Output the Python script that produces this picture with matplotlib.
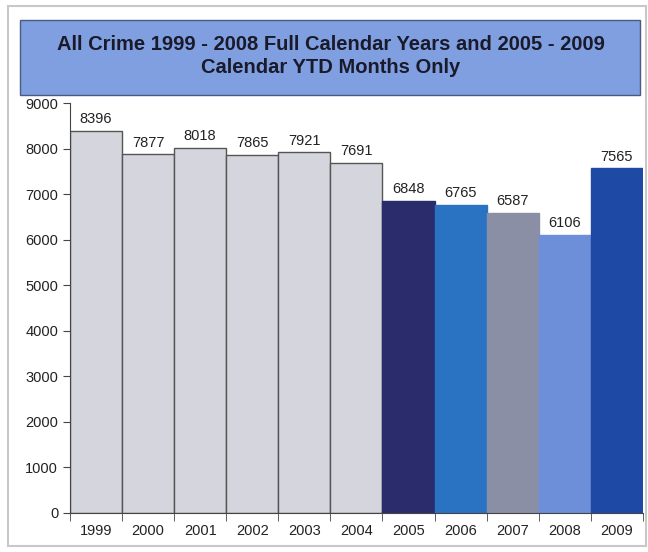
import matplotlib
matplotlib.use("Agg")
import matplotlib.pyplot as plt
from matplotlib.patches import Rectangle
import numpy as np

years = ["1999", "2000", "2001", "2002", "2003", "2004",
         "2005", "2006", "2007", "2008", "2009"]
crimes = [8396, 7877, 8018, 7865, 7921, 7691, 6848, 6765, 6587, 6106, 7565]
bar_colors = ["#d5d5dd"] * 6 + ["#2b2c6c", "#2a73c2", "#8a8fa6", "#6d8ed8", "#1e4aa6"]
edge_colors = ["#555555"] * 6 + bar_colors[6:]

plt.rcParams["font.family"] = ["Liberation Sans", "DejaVu Sans"]

fig = plt.figure(figsize=(6.48, 5.52), dpi=100)
fig.patch.set_facecolor("white")

# outer frame
fig.patches.append(Rectangle((0.012, 0.01), 0.985, 0.98, transform=fig.transFigure,
                             fill=False, edgecolor="#c8c8c8", linewidth=1.5))

# title box
fig.patches.append(Rectangle((0.031, 0.828), 0.957, 0.136, transform=fig.transFigure,
                             facecolor="#7f9fe0", edgecolor="#4a5a80", linewidth=1.0))
fig.text(0.51, 0.899, "All Crime 1999 - 2008 Full Calendar Years and 2005 - 2009\nCalendar YTD Months Only",
         ha="center", va="center", fontsize=14.5, fontweight="bold", color="#1a1a2a",
         linespacing=1.25)

ax = fig.add_axes([0.108, 0.0707, 0.884, 0.7427])
x = np.arange(len(years))
bars = ax.bar(x, crimes, width=1.0, color=bar_colors, edgecolor=edge_colors, linewidth=1.0)

for xi, v in zip(x, crimes):
    ax.text(xi, v + 100, str(v), ha="center", va="bottom", fontsize=10.5, color="#222222")

ax.set_xlim(-0.5, len(years) - 0.5)
ax.set_ylim(0, 9000)
ax.set_yticks(np.arange(0, 9001, 1000))
ax.set_xticks(x)
ax.set_xticklabels(years)
ax.set_xticks(np.arange(-0.5, len(years), 1.0), minor=True)
ax.tick_params(axis="x", which="major", length=0, pad=8, labelsize=10.5, colors="#222222")
ax.tick_params(axis="x", which="minor", length=6, direction="out", color="#444444")
ax.tick_params(axis="y", length=5, direction="out", labelsize=10.5, colors="#222222", color="#444444")

for s in ["top", "right"]:
    ax.spines[s].set_visible(False)
ax.spines["left"].set_color("#444444")
ax.spines["bottom"].set_color("#444444")

fig.savefig("out.png", dpi=100)
